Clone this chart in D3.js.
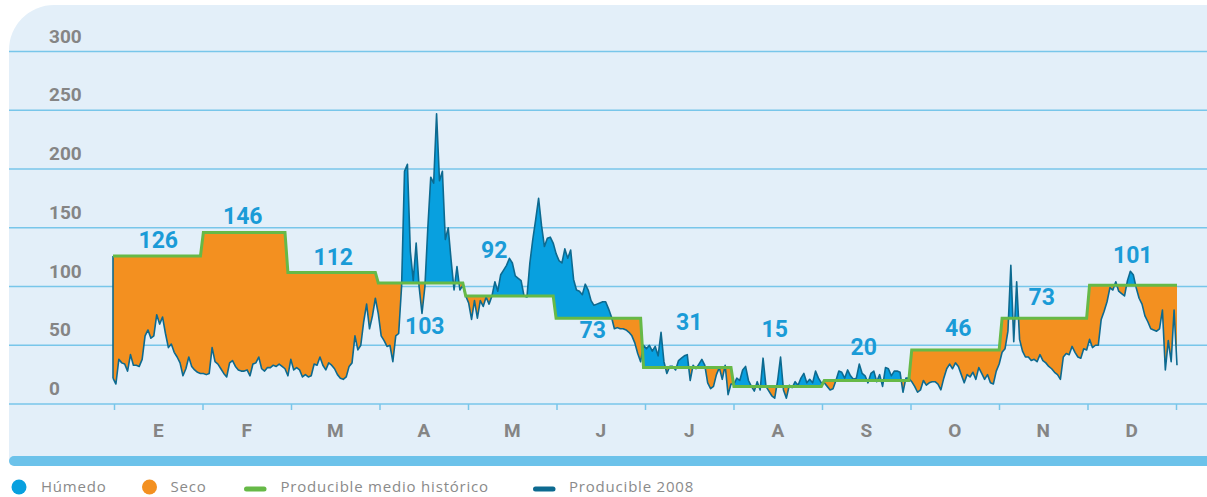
<!DOCTYPE html>
<html><head><meta charset="utf-8">
<script src="https://cdn.jsdelivr.net/npm/d3@7"></script>
<style>body{margin:0;background:#fff;} svg{display:block}</style>
</head><body><svg id="c" width="1207" height="497"></svg>
<script>
// ---------- data ----------
const monthLabels = ["E","F","M","A","M","J","J","A","S","O","N","D"];
const historicalMean = [126,146,112,103,92,73,31,15,20,46,73,101];
const yTicks = [0,50,100,150,200,250,300];
const legendLabels = ["Húmedo","Seco","Producible medio histórico","Producible 2008"];

// Producible 2008, daily values per month
const prodEne = [22,17,38,35,34,28,42,33,33,32,38,58,63,56,58,76,68,74,60,48,51,44,40,35,24,30,40,32,29,27,26];
const prodFeb = [26,25,26,48,36,34,30,26,23,35,37,32,29,28,28,29,24,34,35,40,30,28,31,31,33,32,34,32,30];
const prodMar = [24,38,29,31,29,23,25,23,24,34,33,40,33,29,35,33,30,25,22,21,23,32,35,58,46,50,70,85,64,75,90];
const prodAbr = [77,58,54,49,50,36,58,60,100,198,204,130,105,137,100,77,100,150,193,188,247,190,198,140,150,122,97,117,97,101];
const prodMay = [92,86,72,88,73,88,83,91,85,92,104,96,110,114,118,124,120,109,107,105,92,91,120,140,157,175,152,134,141,142,137];
const prodJun = [128,122,120,132,124,131,106,97,96,93,102,97,88,84,85,86,87,87,81,74,64,65,64,64,63,61,58,52,43,36];
const prodJul = [50,47,50,45,49,41,61,36,26,32,32,29,37,39,41,42,20,33,30,34,38,33,18,13,15,25,31,21,33,8,17];
const prodAgo = [17,22,20,29,32,20,15,11,19,12,39,15,11,7,5,20,40,12,5,16,14,19,16,22,26,18,21,18,28,22,18];
const prodSep = [18,15,12,13,20,28,27,22,29,24,21,22,34,26,24,18,26,28,19,25,15,31,30,24,28,28,27,10,22,22];
const prodOct = [19,15,10,12,20,16,18,19,19,17,12,22,30,34,30,35,32,25,18,25,23,27,21,31,26,21,25,18,17,28,34];
const prodNov = [44,47,62,118,53,104,55,45,40,40,37,38,36,42,37,35,32,30,27,25,21,40,43,42,49,44,40,39,47,46];
const prodDic = [55,48,50,50,72,79,87,99,97,104,96,94,92,105,113,110,99,90,85,75,70,64,63,62,64,80,29,54,36,80,33];

// ---------- layout / style ----------
const W = 1207, H = 497;
const plot = {left:113, right:1177, top:51.5, bottom:404};
const labelDx = [0,-4,-2,1,-18,-8,0,-3,-2.5,3.5,-1.5,1];
const labelDy = [-8,-8.5,-7.5,51,-38,20,-38,-49,-26,-14,-13,-22];
const C = {
  panel:"#e3eff9", grid:"#78c6ea", bar:"#6cc2ea", text:"#858585",
  label:"#1a9bd7", orange:"#f39020", blue:"#08a0df", line:"#0d6a90", green:"#66b947"
};

const daily = [prodEne,prodFeb,prodMar,prodAbr,prodMay,prodJun,prodJul,prodAgo,prodSep,prodOct,prodNov,prodDic];
const data = [];
daily.forEach((arr,m)=>arr.forEach(v=>data.push({m, v, h: historicalMean[m]})));
data.forEach((d,i)=>d.i=i);

const svg = d3.select("#c");
const x = d3.scaleLinear().domain([0, data.length-1]).range([plot.left, plot.right]);
const y = d3.scaleLinear().domain([0,300]).range([plot.bottom, plot.top]);
const xm = d3.scaleBand().domain(d3.range(12)).range([114,1176]);
const xt = d3.scaleLinear().domain([0,12]).range([114,1176]);

// panel
const r = 45, pT = 5, pL = 9, pB = 461;
svg.append("path")
  .attr("d", `M${pL},${pB} L${pL},${pT+r} A${r},${r} 0 0 1 ${pL+r},${pT} L${W},${pT} L${W},${pB} Z`)
  .attr("fill", C.panel);

// gridlines
svg.append("g").selectAll("line").data(yTicks).join("line")
  .attr("x1", pL).attr("x2", W)
  .attr("y1", d=>y(d)).attr("y2", d=>y(d))
  .attr("stroke", C.grid).attr("stroke-width", 1.5);

svg.append("g").selectAll("text").data(yTicks).join("text")
  .attr("x", 49).attr("y", d=>y(d)-9)
  .attr("font-family","Roboto, sans-serif").attr("font-weight",700).attr("font-size",19)
  .attr("fill", C.text).text(d=>d);

// month ticks
const tickAxis = svg.append("g").attr("transform",`translate(0,${plot.bottom})`)
  .call(d3.axisBottom(xt).tickValues(d3.range(13)).tickSize(6).tickFormat(""));
tickAxis.select(".domain").remove();
tickAxis.selectAll("line").attr("stroke", C.grid).attr("stroke-width",1.5);

const monthAxis = svg.append("g").attr("transform",`translate(0,${plot.bottom})`)
  .call(d3.axisBottom(xm).tickSize(0).tickPadding(20).tickFormat(i=>monthLabels[i]));
monthAxis.select(".domain").remove();
monthAxis.selectAll("text").attr("font-family","Roboto, sans-serif").attr("font-weight",700)
  .attr("font-size",19).attr("fill",C.text);

// clip paths
const defs = svg.append("defs");
defs.append("clipPath").attr("id","below").append("path")
  .attr("d", d3.area().x(d=>x(d.i)).y0(d=>y(d.h)).y1(pB)(data));
defs.append("clipPath").attr("id","above").append("path")
  .attr("d", d3.area().x(d=>x(d.i)).y0(0).y1(d=>y(d.h))(data));

const between = d3.area().x(d=>x(d.i)).y0(d=>y(d.h)).y1(d=>y(d.v));
svg.append("path").attr("d", between(data)).attr("fill", C.orange).attr("clip-path","url(#below)");
svg.append("path").attr("d", between(data)).attr("fill", C.blue).attr("clip-path","url(#above)");

// daily line (with left edge)
const lineV = d3.line().x(d=>x(d.i)).y(d=>y(d.v));
svg.append("path").attr("d", d3.line()([[x(0), y(data[0].h)],[x(0), y(data[0].v)]]))
  .attr("stroke", C.line).attr("stroke-width",1.6).attr("fill","none");
svg.append("path").attr("d", lineV(data)).attr("fill","none")
  .attr("stroke", C.line).attr("stroke-width",1.6).attr("stroke-linejoin","round");

// historical step line
svg.append("path").attr("d", d3.line().x(d=>x(d.i)).y(d=>y(d.h))(data)).attr("fill","none")
  .attr("stroke", C.green).attr("stroke-width",3);

// value labels
svg.append("g").selectAll("text").data(historicalMean).join("text")
  .attr("x",(d,i)=>xm(i)+xm.bandwidth()/2+labelDx[i])
  .attr("y",(d,i)=>y(d)+labelDy[i])
  .attr("text-anchor","middle")
  .attr("font-family","Roboto, sans-serif").attr("font-weight",700).attr("font-size",23)
  .attr("fill", C.label).text(d=>d);

// bottom bar
svg.append("rect").attr("x",pL).attr("y",456).attr("width",W).attr("height",10).attr("rx",5)
  .attr("fill", C.bar);

// legend
const lg = svg.append("g").attr("font-family","'Open Sans', sans-serif").attr("font-size",15)
  .attr("fill","#8a8a8a").attr("letter-spacing","0.8px");
const legendMarks = [
  {type:"dot", color:C.blue, mx:19, tx:41},
  {type:"dot", color:C.orange, mx:149.5, tx:170.5},
  {type:"dash", color:C.green, mx:244, tx:280.5},
  {type:"dash", color:C.line, mx:533, tx:569}
];
legendLabels.forEach((t,i)=>{
  const m = legendMarks[i];
  if (m.type==="dot") lg.append("circle").attr("cx",m.mx).attr("cy",487).attr("r",7.5).attr("fill",m.color);
  else lg.append("line").attr("x1",m.mx+2.5).attr("x2",m.mx+20).attr("y1",489).attr("y2",489)
        .attr("stroke",m.color).attr("stroke-width",5).attr("stroke-linecap","round");
  lg.append("text").attr("x",m.tx).attr("y",492).text(t);
});
</script></body></html>
